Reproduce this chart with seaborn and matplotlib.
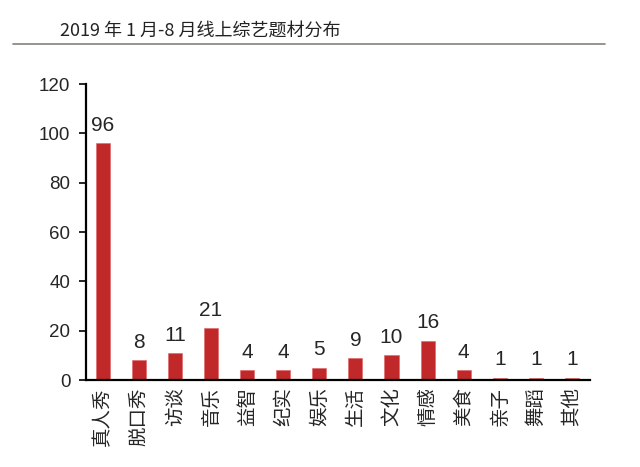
import matplotlib
matplotlib.use("Agg")
import matplotlib.pyplot as plt
import seaborn as sns
import pandas as pd

categories = ["真人秀", "脱口秀", "访谈", "音乐", "益智", "纪实", "娱乐",
              "生活", "文化", "情感", "美食", "亲子", "舞蹈", "其他"]
counts = [96, 8, 11, 21, 4, 4, 5, 9, 10, 16, 4, 1, 1, 1]
title = "2019 年 1 月-8 月线上综艺题材分布"

sns.set_theme(style="white")
plt.rcParams["font.family"] = ["Noto Sans CJK SC", "DejaVu Sans"]
plt.rcParams["axes.unicode_minus"] = False

df = pd.DataFrame({"题材": categories, "数量": counts})

fig = plt.figure(figsize=(6.4, 4.67), dpi=100)
ax = fig.add_axes([0.134, 0.186, 0.788, 0.634])
sns.barplot(data=df, x="题材", y="数量", color="#C0282A", saturation=1,
            width=0.39, edgecolor="#E06060", linewidth=0.4, ax=ax)

ax.set_ylim(0, 120)
ax.set_yticks(range(0, 121, 20))
ax.set_xlim(-0.47, len(categories) - 0.5)
ax.set_xlabel(""); ax.set_ylabel("")
for s in ["top", "right"]:
    ax.spines[s].set_visible(False)
for s in ["left", "bottom"]:
    ax.spines[s].set_color("black")
    ax.spines[s].set_linewidth(1.6)
ax.tick_params(axis="y", direction="out", length=5, width=1.4,
               labelsize=13.5, left=True, pad=6)
ax.tick_params(axis="x", length=0, labelsize=14, pad=5)
plt.setp(ax.get_xticklabels(), rotation=90)
for lbl in ax.get_yticklabels():
    lbl.set_family(["Liberation Sans", "DejaVu Sans"])

for c in ax.containers:
    ax.bar_label(c, fmt="{:.0f}", fontsize=15, padding=6,
                 family=["Liberation Sans", "DejaVu Sans"])

fig.text(0.094, 0.935, title, fontsize=13, ha="left", va="center",
         color="#222222")
fig.add_artist(plt.Line2D([0.02, 0.945], [0.905, 0.905],
                          color="#8a7f78", lw=1.2, transform=fig.transFigure))

fig.savefig("out.png", dpi=100)
